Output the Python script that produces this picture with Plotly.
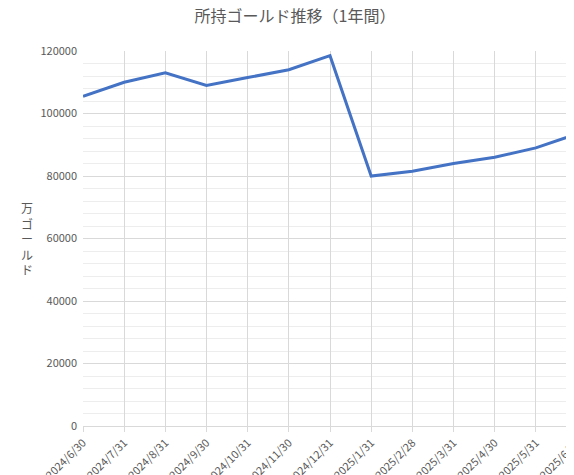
import plotly.graph_objects as go

dates = ["2024/6/30","2024/7/31","2024/8/31","2024/9/30","2024/10/31","2024/11/30","2024/12/31",
         "2025/1/31","2025/2/28","2025/3/31","2025/4/30","2025/5/31","2025/6/30"]
gold = [105500,110000,113000,109000,111500,114000,118500,80000,81500,84000,86000,89000,93500]
title = "所持ゴールド推移（1年間）"
ytitle = "万<br>ゴ<br>ー<br>ル<br>ド"

fig = go.Figure(go.Scatter(x=dates, y=gold, mode="lines",
                           line=dict(color="#4472C4", width=3)))
font = "Noto Sans CJK JP"
fig.update_layout(
    width=574, height=475, plot_bgcolor="white", paper_bgcolor="white",
    margin=dict(l=75, r=5, t=43, b=57, autoexpand=False), showlegend=False,
    title=dict(text=title, x=0.5, xanchor="center", y=0.995, yanchor="top",
               font=dict(family=font, size=16, color="#595959")),
    font=dict(family=font, color="#595959", size=11),
    annotations=[dict(text=ytitle, xref="paper", yref="paper", x=-0.13, y=0.5,
                      showarrow=False, font=dict(size=12, color="#595959"))],
)
fig.update_xaxes(type="category", range=[0, 12], tickangle=-45, showgrid=True,
                 gridcolor="#D9D9D9", linecolor="#D9D9D9", showline=True,
                 ticks="outside", tickcolor="#D9D9D9", ticklen=5, automargin=False,
                 tickfont=dict(size=11))
fig.update_yaxes(range=[0, 120000], dtick=20000, tickformat="d", showgrid=True,
                 gridcolor="#D9D9D9", automargin=False,
                 minor=dict(dtick=4000, showgrid=True, gridcolor="#EDEDED"),
                 zeroline=False, ticksuffix="  ", tickfont=dict(size=11))
fig.write_html("out.html")
